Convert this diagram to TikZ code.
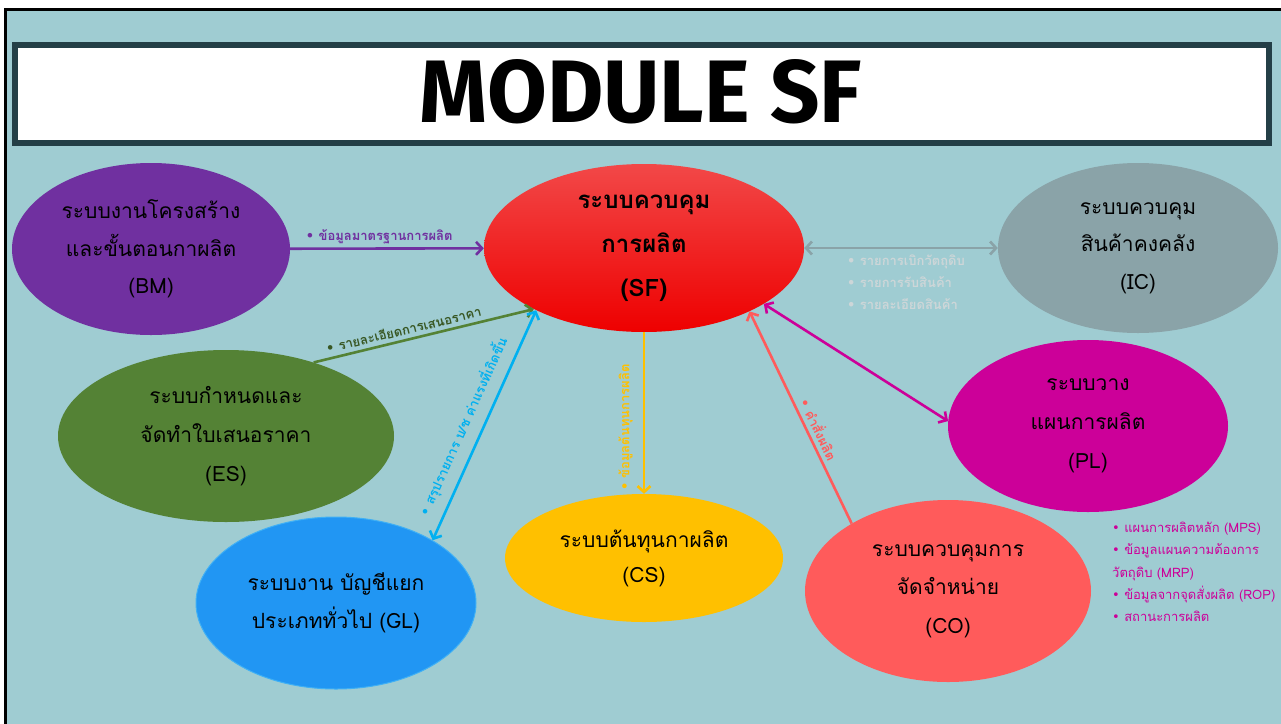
\documentclass[tikz,border=0pt]{standalone}
\usepackage{fontspec}
\setmainfont{Loma}[Script=Thai]
\newfontfamily\titlefont{Fira Sans}
\newfontfamily\bulfont{DejaVu Sans}
\newcommand\bul{{\bulfont •}}
\usetikzlibrary{shapes.geometric,arrows.meta}
\definecolor{bg}{HTML}{9FCCD2}
\definecolor{titleborder}{HTML}{243F47}
\definecolor{bmc}{HTML}{7030A0}
\definecolor{sftop}{HTML}{F24848}
\definecolor{sfbot}{HTML}{EE0000}
\definecolor{icc}{HTML}{8AA3A8}
\definecolor{iclbl}{HTML}{CDD6D8}
\definecolor{esc}{HTML}{548235}
\definecolor{eslbl}{HTML}{385723}
\definecolor{plc}{HTML}{CC0099}
\definecolor{glc}{HTML}{2196F3}
\definecolor{glborder}{HTML}{3FB0F5}
\definecolor{glarrow}{HTML}{00B0F0}
\definecolor{csc}{HTML}{FFC000}
\definecolor{coc}{HTML}{FF5B5B}
\tikzset{
  sys/.style={ellipse, inner sep=0pt, align=center, text=black,
    font=\fontsize{21}{37.5}\selectfont},
  conn/.style={line width=2.6pt},
  lbl/.style={font=\bfseries\fontsize{13}{16}\selectfont, inner sep=1pt},
  >={Straight Barb[length=6pt,width=13pt]}
}
\begin{document}
\begin{tikzpicture}[x=1pt,y=-1pt]
\useasboundingbox (0,0) rectangle (1281,723);
\clip (0,0) rectangle (1281,723);
\fill[white] (0,0) rectangle (1281,723);
\draw[line width=3pt, fill=bg] (5.5,9.5) rectangle (1300,740);
% title
\draw[line width=6pt, draw=titleborder, fill=white] (15,44.5) rectangle (1269,142.5);
\node[inner sep=0pt] (title) at (641,91.5) {\resizebox{442pt}{63pt}{\titlefont\bfseries MODULE SF}};
% systems
\node[sys, fill=bmc, minimum width=278pt, minimum height=172pt] (BM) at (151,249)
  {ระบบงานโครงสร้าง\\และขั้นตอนกาผลิต\\(BM)};
\node[sys, top color=sftop, bottom color=sfbot, minimum width=320pt, minimum height=168pt,
  font=\bfseries\fontsize{24}{44}\selectfont] (SF) at (644,248)
  {ระบบควบคุม\\การผลิต\\(SF)};
\node[sys, fill=icc, minimum width=280pt, minimum height=170pt] (IC) at (1138,248)
  {ระบบควบคุม\\สินค้าคงคลัง\\(IC)};
\node[sys, fill=esc, minimum width=336pt, minimum height=172pt, font=\fontsize{21}{39}\selectfont] (ES) at (226,436)
  {ระบบกำหนดและ\\จัดทำใบเสนอราคา\\(ES)};
\node[sys, fill=plc, minimum width=280pt, minimum height=172pt, font=\fontsize{21}{39}\selectfont] (PL) at (1088,426)
  {ระบบวาง\\แผนการผลิต\\(PL)};
\node[sys, fill=glc, draw=glborder, line width=1pt, minimum width=280pt, minimum height=172pt] (GL) at (336,603)
  {ระบบงาน บัญชีแยก\\ประเภททั่วไป (GL)};
\node[sys, fill=csc, minimum width=278pt, minimum height=128pt, font=\fontsize{21}{35}\selectfont] (CS) at (644,558)
  {ระบบต้นทุนกาผลิต\\(CS)};
\node[sys, fill=coc, minimum width=286pt, minimum height=182pt, font=\fontsize{21}{38.5}\selectfont] (CO) at (948,591)
  {ระบบควบคุมการ\\จัดจำหน่าย\\(CO)};
% connectors
\draw[conn, ->, draw=bmc] (BM) -- node[lbl, above=2pt, pos=0.46, text=bmc] {\bul\ ข้อมูลมาตรฐานการผลิต} (SF);
\draw[conn, <->, draw=icc] (SF) -- (IC);
\node[lbl, text=iclbl, align=left, anchor=west, font=\bfseries\fontsize{13}{22}\selectfont] (iclist) at (846,282)
  {\bul\ รายการเบิกวัตถุดิบ\\\bul\ รายการรับสินค้า\\\bul\ รายละเอียดสินค้า};
\draw[conn, ->, draw=esc] (ES.40) -- node[lbl, sloped, above=3pt, pos=0.42, text=eslbl] {\bul\ รายละเอียดการเสนอราคา} (SF.209);
\draw[conn, <->, draw=glarrow] (GL.33) -- node[lbl, sloped, above=8pt, pos=0.46, text=glarrow] {\bul\ สรุปรายการ บ/ช ค่าแรงที่เกิดขึ้น} (SF.210);
\draw[conn, <-, draw=csc] (CS.north) -- node[lbl, sloped, above=9pt, pos=0.41, text=csc] {\bul\ ข้อมูลต้นทุนการผลิต} (SF.south);
\draw[conn, ->, draw=coc] (CO.145) -- node[lbl, sloped, above=3pt, pos=0.42, text=coc] {\bul\ คำสั่งผลิต} (SF.329);
\draw[conn, <->, draw=plc] (SF.335) -- (PL.178);
\node[text=plc, align=left, anchor=west, inner sep=0pt, font=\fontsize{13}{22.3}\selectfont] (pllist) at (1112,572)
  {\bul\ แผนการผลิตหลัก (MPS)\\\bul\ ข้อมูลแผนความต้องการ\\วัตถุดิบ (MRP)\\\bul\ ข้อมูลจากจุดสั่งผลิต (ROP)\\\bul\ สถานะการผลิต};
\end{tikzpicture}
\end{document}
